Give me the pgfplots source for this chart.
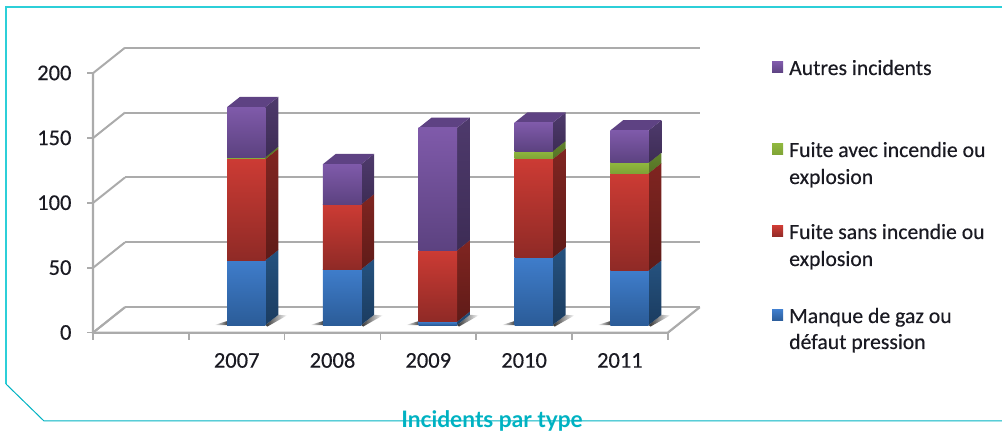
\documentclass[border=0pt]{standalone}
\usepackage{pgfplots}
\pgfplotsset{compat=1.18}
\usepackage{fontspec}
\setmainfont{Carlito}[Numbers=Lining]
\newfontfamily\labelfont{Carlito}[Numbers=Lining,FakeBold=0.35]
\newfontfamily\titlefont{Lato}

% Palette: light (top) and dark (bottom) end of each face's gradient
\definecolor{frameline}{HTML}{00B2C2}
\definecolor{framelight}{HTML}{2CCFD8}
\definecolor{gridline}{HTML}{ABABAB}
\definecolor{labeltext}{HTML}{1A1A22}
\definecolor{bluetop}{HTML}{3F7DCB}\definecolor{bluebot}{HTML}{2B5C98}
\definecolor{blueside}{HTML}{25527F}\definecolor{bluesidebot}{HTML}{1B3C60}
\definecolor{redtop}{HTML}{CC3B34}\definecolor{redbot}{HTML}{8F2A26}
\definecolor{redside}{HTML}{802521}\definecolor{redsidebot}{HTML}{5F1B18}
\definecolor{greentop}{HTML}{8FB73E}\definecolor{greenbot}{HTML}{7FA336}
\definecolor{greenside}{HTML}{62832C}\definecolor{greensidebot}{HTML}{547226}
\definecolor{purpletop}{HTML}{7F5AAA}\definecolor{purplebot}{HTML}{5C4280}
\definecolor{purpleside}{HTML}{4E3A6C}\definecolor{purplesidebot}{HTML}{3D2C55}
\definecolor{purplecap}{HTML}{5E4283}
\definecolor{bluecap}{HTML}{2B5C98}\definecolor{redcap}{HTML}{8F2A26}\definecolor{greencap}{HTML}{62832C}

% Cumulative height of the bar being stacked
\gdef\stackbase{0}
% \segment{category}{value}{colour stem}: front, side and cap of one stacked block
\newcommand\segment[3]{%
  \pgfmathsetmacro\zlo{\stackbase}%
  \pgfmathsetmacro\zhi{\stackbase+#2}%
  \pgfmathsetmacro\xlo{#1+0.30}%
  \pgfmathsetmacro\xhi{#1+0.70}%
  \addplot3[draw=none,shade,top color=#3side,bottom color=#3sidebot] coordinates
    {(\xhi,0.30,\zlo) (\xhi,0.70,\zlo) (\xhi,0.70,\zhi) (\xhi,0.30,\zhi)} -- cycle;
  \addplot3[draw=none,fill=#3cap] coordinates
    {(\xlo,0.30,\zhi) (\xhi,0.30,\zhi) (\xhi,0.70,\zhi) (\xlo,0.70,\zhi)} -- cycle;
  \addplot3[draw=none,shade,top color=#3top,bottom color=#3bot] coordinates
    {(\xlo,0.30,\zlo) (\xhi,0.30,\zlo) (\xhi,0.30,\zhi) (\xlo,0.30,\zhi)} -- cycle;
  \xdef\stackbase{\zhi}%
}
% \floorshadow{category}: soft wedges on the floor either side of a bar
\newcommand\floorshadow[1]{%
  \pgfmathsetmacro\xa{#1+0.165}\pgfmathsetmacro\xb{#1+0.30}\pgfmathsetmacro\xc{#1+0.25}%
  \pgfmathsetmacro\xd{#1+0.70}\pgfmathsetmacro\xe{#1+0.80}\pgfmathsetmacro\xf{#1+0.74}%
  \addplot3[draw=none,shade,left color=white,right color=black!75] coordinates
    {(\xa,0.30,0) (\xb,0.30,0) (\xc,0.46,0)} -- cycle;
  \addplot3[draw=none,shade,left color=black!80,right color=white] coordinates
    {(\xd,0.30,0) (\xd,0.70,0) (\xe,0.68,0) (\xf,0.24,0)} -- cycle;
}
\newcommand\legendkey[2]{%
  \shade[top color=#2top,bottom color=#2bot] (772pt,{431pt-#1-5pt}) rectangle (783pt,{431pt-#1+6pt});
}

\begin{document}
\begin{tikzpicture}[x=1pt,y=1pt]
\useasboundingbox (0,0) rectangle (1002pt,431pt);
% Outer frame with its cut corner
\draw[framelight,line width=1.2pt] (1002pt,424pt) -- (6pt,424pt) -- (6pt,47pt);
\draw[frameline,line width=1pt] (6pt,47pt) -- (44pt,10pt) -- (1002pt,10pt);

\begin{axis}[
  at={(93pt,98.3pt)},anchor=origin,
  x={(95.8pt,0pt)},y={(32pt,25.5pt)},z={(0pt,1.2975pt)},
  xmin=0,xmax=6,ymin=0,ymax=1,zmin=0,zmax=200,
  clip=false,
  axis line style={draw=none},
  xtick={1.5,2.5,3.5,4.5,5.5},
  xticklabels={2007,2008,2009,2010,2011},
  ytick=\empty,
  ztick={0,50,100,150,200},
  zmajorgrids=true,
  major grid style={gridline,line width=2pt},
  major tick length=0pt,
  tick label style={font=\labelfont\fontsize{22.5}{22.5}\selectfont,text=labeltext},
  xtick style={draw=none},ztick style={draw=none},
  xticklabel style={anchor=base,yshift=-35pt},
  zticklabel style={anchor=base east,xshift=-18pt,yshift=-7pt},
  /pgf/number format/assume math mode=true,
]
% Visible axis edges and the tick marks around them
\addplot3[gridline,line width=2.2pt] coordinates {(0,0,200) (0,0,0) (6,0,0) (6,1,0)};
\addplot3[gridline,line width=2pt] coordinates {(0,0,0) (0,1,0)};
\addplot3[gridline,line width=1.6pt] coordinates {(0,0,0) (0,0,-6)};
\addplot3[gridline,line width=1.6pt] coordinates {(1,0,0) (1,0,-6)};
\addplot3[gridline,line width=1.6pt] coordinates {(2,0,0) (2,0,-6)};
\addplot3[gridline,line width=1.6pt] coordinates {(3,0,0) (3,0,-6)};
\addplot3[gridline,line width=1.6pt] coordinates {(4,0,0) (4,0,-6)};
\addplot3[gridline,line width=1.6pt] coordinates {(5,0,0) (5,0,-6)};
\addplot3[gridline,line width=1.6pt] coordinates {(6,0,0) (6,0,-6)};
\addplot3[gridline,line width=1.6pt] coordinates {(0,0,0) (-0.06,0,0)};
\addplot3[gridline,line width=1.6pt] coordinates {(0,0,50) (-0.06,0,50)};
\addplot3[gridline,line width=1.6pt] coordinates {(0,0,100) (-0.06,0,100)};
\addplot3[gridline,line width=1.6pt] coordinates {(0,0,150) (-0.06,0,150)};
\addplot3[gridline,line width=1.6pt] coordinates {(0,0,200) (-0.06,0,200)};

\floorshadow{1}\floorshadow{2}\floorshadow{3}\floorshadow{4}\floorshadow{5}

% 2007
\gdef\stackbase{0}
\segment{1}{50}{blue}\segment{1}{78}{red}\segment{1}{1.5}{green}\segment{1}{38.5}{purple}
% 2008
\gdef\stackbase{0}
\segment{2}{43}{blue}\segment{2}{50}{red}\segment{2}{31}{purple}
% 2009
\gdef\stackbase{0}
\segment{3}{2.5}{blue}\segment{3}{55}{red}\segment{3}{94.5}{purple}
% 2010
\gdef\stackbase{0}
\segment{4}{52}{blue}\segment{4}{76}{red}\segment{4}{6}{green}\segment{4}{22}{purple}
% 2011
\gdef\stackbase{0}
\segment{5}{42}{blue}\segment{5}{75}{red}\segment{5}{8}{green}\segment{5}{25}{purple}
\end{axis}

% Legend
\legendkey{68pt}{purple}\legendkey{150pt}{green}\legendkey{232pt}{red}\legendkey{316pt}{blue}
\begin{scope}[every node/.style={anchor=base west,inner sep=0pt,text=labeltext,font=\labelfont\fontsize{21.7}{21.7}\selectfont}]
\node at (789pt,{431pt-75pt}) {Autres incidents};
\node at (789pt,{431pt-157pt}) {Fuite avec incendie ou};
\node at (789pt,{431pt-184pt}) {explosion};
\node at (789pt,{431pt-239pt}) {Fuite sans incendie ou};
\node at (789pt,{431pt-266pt}) {explosion};
\node at (789pt,{431pt-323pt}) {Manque de gaz ou};
\node at (789pt,{431pt-349pt}) {défaut pression};
\end{scope}

% Caption sitting on the frame line
\node[text=frameline,inner sep=0pt,font=\titlefont\bfseries\fontsize{22.7}{22.7}\selectfont] at (492pt,10pt) {Incidents par type};
\end{tikzpicture}
\end{document}
